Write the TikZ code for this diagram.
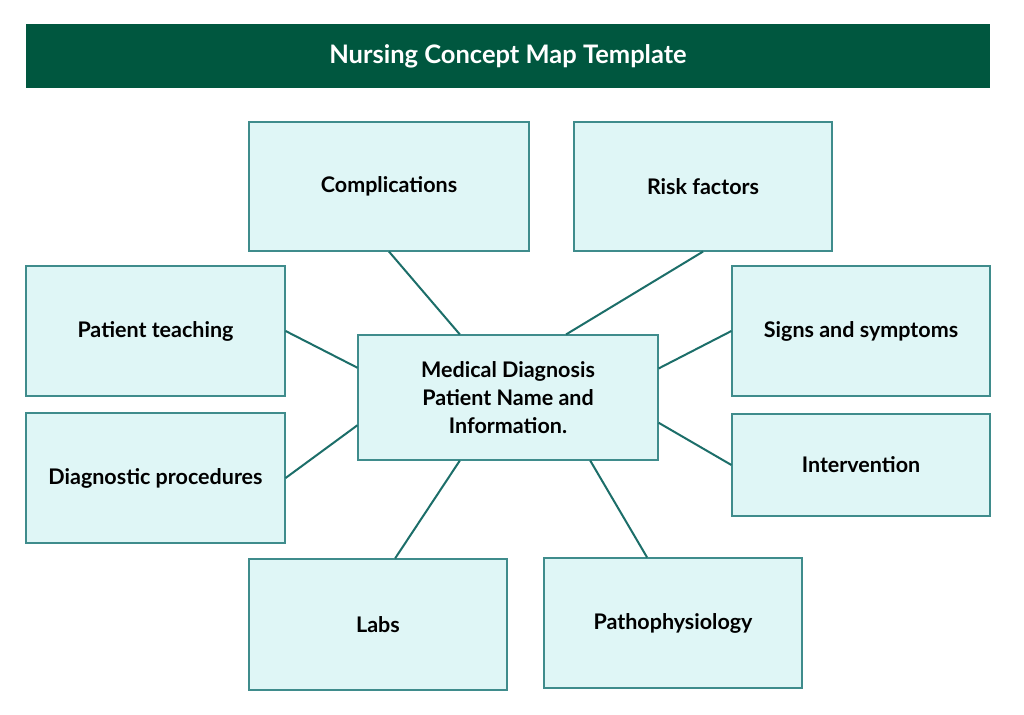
\documentclass[tikz,border=0pt]{standalone}
\usepackage{fontspec}
\setmainfont{Lato}
\usetikzlibrary{positioning,calc}
\definecolor{headgreen}{HTML}{00573F}
\definecolor{boxfill}{HTML}{DFF6F6}
\definecolor{boxline}{HTML}{3F8C8C}
\definecolor{linkteal}{HTML}{1C6E69}

\begin{document}
\begin{tikzpicture}[x=1pt, y=-1pt,
    box/.style={draw=boxline, line width=1.2pt, fill=boxfill, inner sep=0pt,
        font=\fontsize{21.5}{28}\selectfont\bfseries, align=center},
    link/.style={draw=linkteal, line width=2pt}]
        \useasboundingbox[fill=white] (0,0) rectangle (1024,714);

        % title bar
        \node[fill=headgreen, minimum width=964pt, minimum height=64pt, inner sep=0pt,
            text=white, font=\fontsize{25.5}{30}\selectfont\bfseries] (title) at (508,56) {Nursing Concept Map Template};

        % centre
        \node[box, minimum width=300pt, minimum height=125pt] (diag) at (508,397.5) {Medical Diagnosis\\Patient Name and\\Information.};

        % top row
        \node[box, minimum width=280pt, minimum height=129pt] (comp) at (389,186.5) {Complications};
        \node[box, minimum width=258pt, minimum height=129pt] (risk) at (703,186.5) {Risk factors};

        % left column
        \node[box, minimum width=259pt, minimum height=130pt] (teach) at (155.5,331) {Patient teaching};
        \node[box, minimum width=259pt, minimum height=130pt] (proc) at (155.5,478) {Diagnostic procedures};

        % right column
        \node[box, minimum width=258pt, minimum height=130pt] (signs) at (861,331) {Signs and symptoms};
        \node[box, minimum width=258pt, minimum height=102pt] (interv) at (861,465) {Intervention};

        % bottom row
        \node[box, minimum width=258pt, minimum height=131pt] (labs) at (378,624.5) {Labs};
        \node[box, minimum width=258pt, minimum height=130pt] (patho) at (673,623) {Pathophysiology};

        % links to the centre
        \draw[link] (comp.south) -- ($(diag.north west)!0.34!(diag.north east)$);
        \draw[link] (risk.south) -- ($(diag.north west)!0.693!(diag.north east)$);
        \draw[link] (teach.east) -- ($(diag.north west)!0.264!(diag.south west)$);
        \draw[link] (proc.east) -- ($(diag.north west)!0.72!(diag.south west)$);
        \draw[link] (signs.west) -- ($(diag.north east)!0.27!(diag.south east)$);
        \draw[link] (interv.west) -- ($(diag.north east)!0.70!(diag.south east)$);
        \draw[link] ($(labs.north west)!0.566!(labs.north east)$) -- ($(diag.south west)!0.34!(diag.south east)$);
        \draw[link] ($(patho.north west)!0.40!(patho.north east)$) -- ($(diag.south west)!0.773!(diag.south east)$);

    \end{tikzpicture}
\end{document}
